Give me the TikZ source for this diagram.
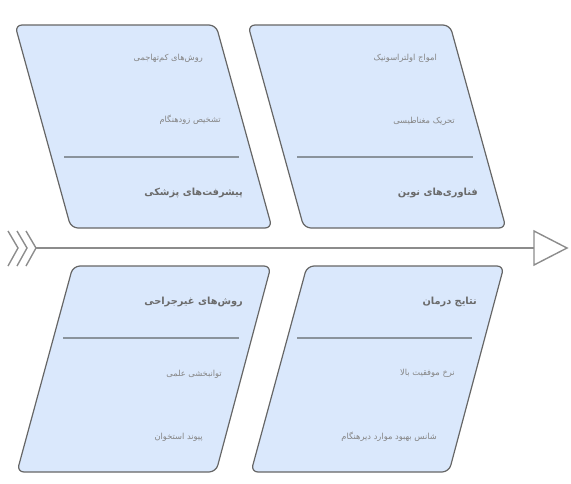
\documentclass[tikz,border=0pt]{standalone}
\usepackage{fontspec}
\TeXXeTstate=1
\newfontfamily\fafont[Script=Arabic]{DejaVu Sans}
\definecolor{boxfill}{HTML}{DAE8FC}
\definecolor{boxline}{HTML}{666666}
\definecolor{divline}{HTML}{8A939C}
\definecolor{itemtxt}{HTML}{858585}
\definecolor{titletxt}{HTML}{6A6A6A}
\definecolor{spine}{HTML}{8C8C8C}
\tikzset{
  box/.style={draw=boxline, fill=boxfill, line width=1.2pt, rounded corners=7pt},
  divider/.style={draw=divline, line width=2.2pt},
  item/.style={anchor=east, inner sep=0pt, text=itemtxt, font=\fafont\fontsize{8.3}{10}\selectfont},
  title/.style={anchor=east, inner sep=0pt, text=titletxt, font=\fafont\bfseries\fontsize{9.8}{12}\selectfont},
  spineline/.style={draw=spine, line width=1.4pt},
}
\begin{document}
\begin{tikzpicture}[x=1pt,y=-1pt]
\useasboundingbox (0,0) rectangle (571,483);
% boxes
\draw[box] (15,25) -- (216,25) -- (272,228) -- (71,228) -- cycle;
\draw[box] (248,25) -- (450,25) -- (506,228) -- (304,228) -- cycle;
\draw[box] (73,266) -- (271,266) -- (216,472) -- (17,472) -- cycle;
\draw[box] (307,266) -- (504,266) -- (449,472) -- (251,472) -- cycle;
% dividers
\coordinate (d1a) at (64,157); \coordinate (d1b) at (239,157);
\coordinate (d2a) at (297,157); \coordinate (d2b) at (473,157);
\coordinate (d3a) at (63,338); \coordinate (d3b) at (239,338);
\coordinate (d4a) at (297,338); \coordinate (d4b) at (472,338);
\draw[divider] (d1a) -- (d1b);
\draw[divider] (d2a) -- (d2b);
\draw[divider] (d3a) -- (d3b);
\draw[divider] (d4a) -- (d4b);
% top-left
\node[item] (tl1) at (203,58) {\beginR روش‌های کم‌تهاجمی\endR};
\node[item] (tl2) at (221,120) {\beginR تشخیص زودهنگام\endR};
\node[title] (tlt) at (243,193) {\beginR پیشرفت‌های پزشکی\endR};
% top-right
\node[item] (tr1) at (437,58) {\beginR امواج اولتراسونیک\endR};
\node[item] (tr2) at (455,121) {\beginR تحریک مغناطیسی\endR};
\node[title] (trt) at (478,193) {\beginR فناوری‌های نوین\endR};
% bottom-left
\node[title] (blt) at (243,302) {\beginR روش‌های غیرجراحی\endR};
\node[item] (bl1) at (222,374) {\beginR توانبخشی علمی\endR};
\node[item] (bl2) at (203,437) {\beginR پیوند استخوان\endR};
% bottom-right
\node[title] (brt) at (477,302) {\beginR نتایج درمان\endR};
\node[item] (br1) at (455,373) {\beginR نرخ موفقیت بالا\endR};
\node[item] (br2) at (437,437) {\beginR شانس بهبود موارد دیرهنگام\endR};
% spine
\coordinate (tail) at (35,248);
\coordinate (head) at (534,248);
\draw[spineline] (tail) -- (head);
\draw[spineline, fill=white, line join=miter] (534,231) -- (567,248) -- (534,265) -- cycle;
\foreach \x in {8,17,26}{
  \draw[spineline] (\x,231) -- (\x+10,248) -- (\x,266);
}
\end{tikzpicture}
\end{document}
